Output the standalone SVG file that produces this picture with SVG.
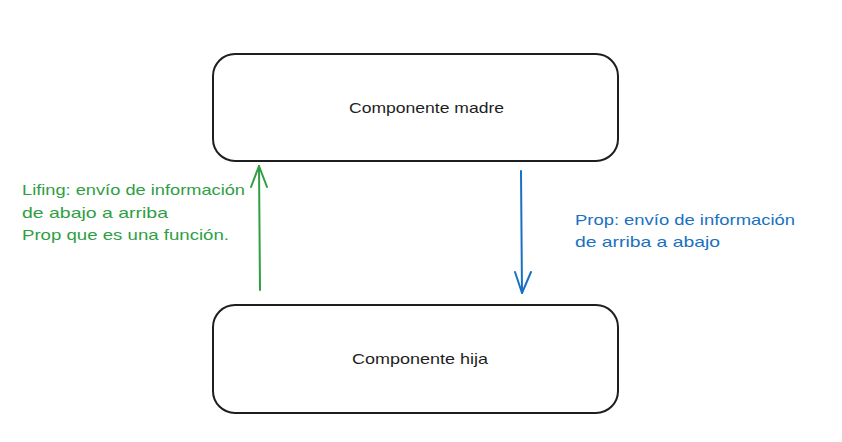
<svg xmlns="http://www.w3.org/2000/svg" width="842" height="442" viewBox="0 0 842 442">
<style>
.box{fill:#ffffff;stroke:#1e1e1e;stroke-width:2}
.lbl{font-family:"Liberation Sans","DejaVu Sans",sans-serif;font-size:15px;fill:#1e1e1e}
.g{font-family:"Liberation Sans","DejaVu Sans",sans-serif;font-size:15px;fill:#2f9e44}
.b{font-family:"Liberation Sans","DejaVu Sans",sans-serif;font-size:15px;fill:#1971c2}
</style>
<rect width="842" height="442" fill="#ffffff"/>
<g id="madre">
<rect class="box" x="213" y="54" width="405" height="107" rx="22"/>
<text class="lbl" x="426.5" y="113" text-anchor="middle" textLength="155" lengthAdjust="spacingAndGlyphs">Componente madre</text>
</g>
<g id="hija">
<rect class="box" x="213" y="305" width="405" height="108" rx="22"/>
<text class="lbl" x="420" y="364" text-anchor="middle" textLength="136" lengthAdjust="spacingAndGlyphs">Componente hija</text>
</g>
<g id="connectors" fill="none" stroke-linecap="round" stroke-linejoin="round">
<path d="M260 290 L259 166" stroke="#2f9e44" stroke-width="2"/>
<path d="M251 187 L259 166 L267 187" stroke="#2f9e44" stroke-width="2"/>
<path d="M521 171 L522 293" stroke="#1971c2" stroke-width="2"/>
<path d="M515 272 L522 293 L531 272" stroke="#1971c2" stroke-width="2"/>
</g>
<g id="label-lifting">
<text class="g" x="22" y="195" textLength="223" lengthAdjust="spacingAndGlyphs">Lifing: envío de información</text>
<text class="g" x="22" y="218" textLength="146" lengthAdjust="spacingAndGlyphs">de abajo a arriba</text>
<text class="g" x="22" y="240" textLength="207" lengthAdjust="spacingAndGlyphs">Prop que es una función.</text>
</g>
<g id="label-prop">
<text class="b" x="575" y="225" textLength="220" lengthAdjust="spacingAndGlyphs">Prop: envío de información</text>
<text class="b" x="575" y="247" textLength="145" lengthAdjust="spacingAndGlyphs">de arriba a abajo</text>
</g>
</svg>
